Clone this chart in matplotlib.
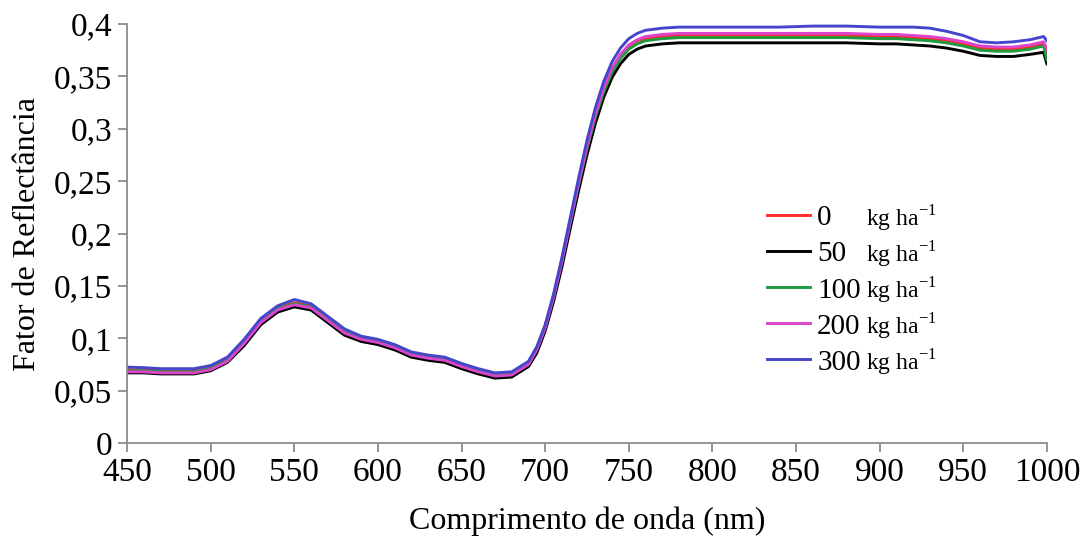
import matplotlib
matplotlib.use("Agg")
import matplotlib.pyplot as plt
from matplotlib.ticker import MultipleLocator, FuncFormatter

plt.rcParams['font.family'] = ['Liberation Serif', 'DejaVu Serif']
plt.rcParams['mathtext.fontset'] = 'custom'
plt.rcParams['mathtext.rm'] = 'Liberation Serif'

# comprimento de onda (nm)
wl = [450, 460, 470, 480, 490, 500, 510, 520, 530, 540, 550, 560, 570, 580, 590,
      600, 610, 620, 630, 640, 650, 660, 670, 680, 690,
      695, 700, 705, 710, 715, 720, 725, 730, 735, 740, 745, 750, 755, 760,
      770, 780, 800, 820, 840, 860, 880,
      900, 910, 920, 930, 940, 950, 960, 970, 980, 990, 998, 1000]

r0 = [0.070, 0.070, 0.069, 0.069, 0.069, 0.072, 0.080, 0.097, 0.117, 0.129, 0.134, 0.131, 0.119, 0.107, 0.101,
      0.098, 0.093, 0.086, 0.083, 0.081, 0.075, 0.070, 0.066, 0.067, 0.077,
      0.091, 0.112, 0.141, 0.175, 0.212, 0.249, 0.283, 0.313, 0.338, 0.357, 0.370, 0.379, 0.384, 0.386,
      0.388, 0.389, 0.389, 0.389, 0.389, 0.389, 0.389,
      0.388, 0.388, 0.387, 0.386, 0.384, 0.381, 0.377, 0.376, 0.376, 0.378, 0.381, 0.372]

r50 = [0.067, 0.067, 0.066, 0.066, 0.066, 0.069, 0.077, 0.093, 0.113, 0.125, 0.130, 0.127, 0.115, 0.103, 0.097,
       0.094, 0.089, 0.082, 0.079, 0.077, 0.071, 0.066, 0.062, 0.063, 0.073,
       0.086, 0.107, 0.135, 0.168, 0.205, 0.241, 0.275, 0.305, 0.330, 0.349, 0.362, 0.371, 0.376, 0.379,
       0.381, 0.382, 0.382, 0.382, 0.382, 0.382, 0.382,
       0.381, 0.381, 0.380, 0.379, 0.377, 0.374, 0.370, 0.369, 0.369, 0.371, 0.373, 0.362]

r100 = [0.069, 0.069, 0.068, 0.068, 0.068, 0.071, 0.079, 0.096, 0.116, 0.128, 0.133, 0.130, 0.118, 0.106, 0.100,
        0.097, 0.092, 0.085, 0.082, 0.080, 0.074, 0.069, 0.065, 0.066, 0.076,
        0.090, 0.111, 0.140, 0.174, 0.211, 0.247, 0.281, 0.311, 0.335, 0.354, 0.367, 0.376, 0.381, 0.384,
        0.386, 0.387, 0.387, 0.387, 0.387, 0.387, 0.387,
        0.386, 0.386, 0.385, 0.384, 0.382, 0.379, 0.375, 0.374, 0.374, 0.376, 0.379, 0.366]

r200 = [0.068, 0.068, 0.067, 0.067, 0.067, 0.070, 0.078, 0.095, 0.115, 0.127, 0.132, 0.129, 0.117, 0.105, 0.099,
        0.096, 0.091, 0.084, 0.081, 0.079, 0.073, 0.068, 0.064, 0.065, 0.075,
        0.089, 0.110, 0.139, 0.173, 0.211, 0.248, 0.283, 0.314, 0.339, 0.358, 0.371, 0.380, 0.385, 0.388,
        0.390, 0.391, 0.391, 0.391, 0.391, 0.391, 0.391,
        0.390, 0.390, 0.389, 0.388, 0.386, 0.383, 0.379, 0.378, 0.378, 0.380, 0.383, 0.376]

r300 = [0.0725, 0.072, 0.071, 0.071, 0.071, 0.074, 0.082, 0.099, 0.119, 0.131, 0.137, 0.133, 0.121, 0.109, 0.102,
        0.099, 0.094, 0.087, 0.084, 0.082, 0.076, 0.071, 0.067, 0.068, 0.078,
        0.092, 0.113, 0.142, 0.177, 0.215, 0.253, 0.289, 0.320, 0.345, 0.364, 0.377, 0.386, 0.391, 0.394,
        0.396, 0.397, 0.397, 0.397, 0.397, 0.398, 0.398,
        0.397, 0.397, 0.397, 0.396, 0.393, 0.389, 0.383, 0.382, 0.383, 0.385, 0.388, 0.384]

doses = ["0", "50", "100", "200", "300"]
cores = ["#ff2a2a", "#000000", "#1f9a40", "#dd44cc", "#4646cc"]
series = [r0, r50, r100, r200, r300]

fig = plt.figure(figsize=(10.86, 5.45), dpi=100)
ax = fig.add_axes([0.117, 0.187, 0.847, 0.769])

for y, c, d in zip(series, cores, doses):
    ax.plot(wl, y, color=c, lw=2.1, label=d)

ax.set_xlim(450, 1000)
ax.set_ylim(0, 0.4)
ax.xaxis.set_major_locator(MultipleLocator(50))
ax.yaxis.set_major_locator(MultipleLocator(0.05))
ax.yaxis.set_major_formatter(FuncFormatter(lambda v, p: f"{v:g}".replace(".", ",")))

for s in ["top", "right"]:
    ax.spines[s].set_visible(False)
for s in ["left", "bottom"]:
    ax.spines[s].set_color("#8c8c8c")
    ax.spines[s].set_linewidth(1.3)
ax.tick_params(axis="both", direction="out", length=6.5, width=1.3, color="#8c8c8c",
               labelsize=24, labelcolor="black", pad=4)

ax.set_xlabel("Comprimento de onda (nm)", fontsize=23, labelpad=13)
ax.set_ylabel("Fator de Reflectância", fontsize=23, labelpad=9)

leg = ax.legend(loc="upper left", bbox_to_anchor=(0.696, 0.568), frameon=False,
                fontsize=21, handlelength=1.47, handletextpad=0.24, labelspacing=0.33,
                borderpad=0, borderaxespad=0)

# unidade ao lado de cada rótulo da legenda
fig.canvas.draw()
W, H = fig.get_size_inches() * fig.dpi
for t in leg.get_texts():
    bb = t.get_window_extent()
    yc = (bb.y0 + bb.y1) / 2
    fig.text(866 / W, yc / H, "kg ha$^{-1}$", fontsize=17, va="center", ha="left")

fig.savefig("out.png", dpi=100)
